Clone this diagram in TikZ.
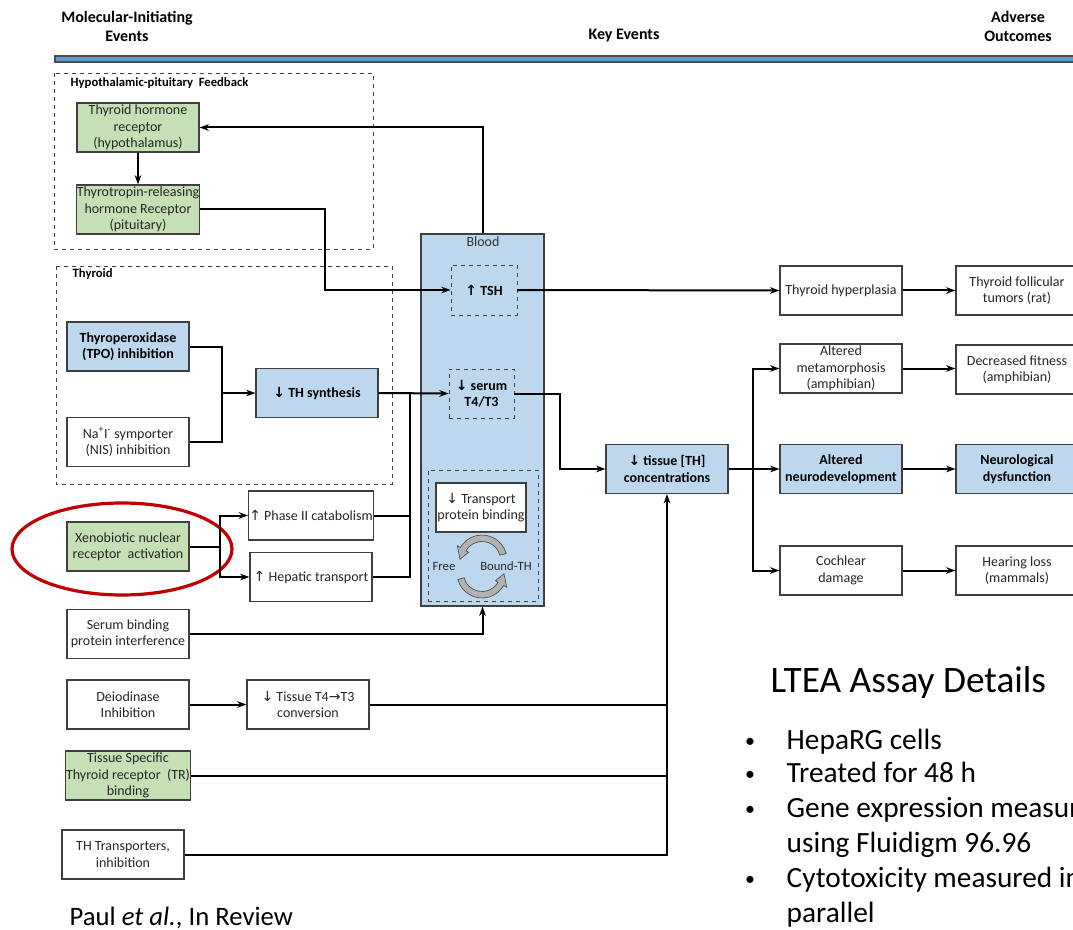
\documentclass[tikz,border=0pt]{standalone}
\usepackage{fontspec}
\setmainfont{Carlito}
\newfontfamily\arrowfont[Scale=1.0]{DejaVu Sans}
\usepackage{tikz}
\usetikzlibrary{positioning,arrows.meta,calc}

\definecolor{leafgreen}{HTML}{C5E0B4}
\definecolor{paleblue}{HTML}{BDD7EE}
\definecolor{barblue}{HTML}{5B9BD5}
\definecolor{ovalred}{HTML}{C00000}
\definecolor{edgegray}{HTML}{404040}

\newcommand{\bxf}{\fontsize{10.5}{12.3}\selectfont}
\newcommand{\uparr}{{\arrowfont ↑}}
\newcommand{\dnarr}{{\arrowfont ↓}}
\newcommand{\rtarr}{{\arrowfont →}}

\begin{document}
\begin{tikzpicture}[x=0.75pt,y=-0.75pt,>={Stealth[length=7pt,width=5pt]},
  box/.style={draw=edgegray,line width=0.9pt,minimum width=91.5pt,minimum height=36.75pt,inner sep=0.5pt,align=center,font=\bxf,text=black!85},
  greenbox/.style={box,fill=leafgreen},
  bluebox/.style={box,fill=paleblue,font=\bxf\bfseries,text=black},
  plainbox/.style={box,fill=white},
  dashbox/.style={draw=edgegray,dashed,line width=0.6pt},
  link/.style={line width=1.5pt},
  flow/.style={link,->},
  grouptitle/.style={anchor=west,font=\fontsize{9.5}{11}\selectfont\bfseries},
  roundarrow/.style={fill=gray!60,draw=black!70,line width=0.5pt}]
\useasboundingbox (0,0) rectangle (1073,930);
\clip (0,0) rectangle (1073,930);
% ---------------- header ----------------
\node[align=center,font=\fontsize{12}{14.25}\selectfont\bfseries] (mie) at (127,26.5) {Molecular-Initiating\\Events};
\node[font=\fontsize{12}{14.25}\selectfont\bfseries] (ke) at (624,36) {Key Events};
\node[align=center,font=\fontsize{12}{14.25}\selectfont\bfseries] (ao) at (1018,26.5) {Adverse\\Outcomes};
\draw[fill=barblue,draw=black!70,line width=0.8pt] (55,56) rectangle (1090,62);

% ---------------- hypothalamic-pituitary feedback ----------------
\draw[dashbox] (54,73) rectangle (373,249);
\node[grouptitle] (hpftitle) at (66,83) {Hypothalamic-pituitary\ \ Feedback};
\node[greenbox] (hyporec) at (138,127.5) {Thyroid hormone\\receptor\\(hypothalamus)};
\node[greenbox] (trhrec) at (138,209.5) {Thyrotropin-releasing\\hormone Receptor\\(pituitary)};

% ---------------- thyroid ----------------
\draw[dashbox] (56,266) rectangle (392,484);
\node[grouptitle] (thytitle) at (68,274) {Thyroid};
\node[bluebox] (tpo) at (128,346.5) {Thyroperoxidase\\(TPO) inhibition};
\node[plainbox] (nis) at (128,442) {Na\textsuperscript{+}I\textsuperscript{-} symporter\\(NIS) inhibition};
\node[bluebox] (thsyn) at (317,393) {\dnarr\ TH synthesis};

% ---------------- blood ----------------
\node[draw=edgegray,line width=0.9pt,fill=paleblue,minimum width=92.25pt,minimum height=279pt] (blood) at (482.5,420) {};
\node[font=\bxf,text=black!80] (bloodlbl) at (483,242) {Blood};
\node[dashbox,minimum width=49.5pt,minimum height=37.5pt,font=\bxf\bfseries] (tsh) at (484,290) {\uparr\ TSH};
\node[dashbox,minimum width=48.75pt,minimum height=36.75pt,align=center,font=\bxf\bfseries] (serum) at (481.5,393.5) {\dnarr\ serum\\T4/T3};
\node[dashbox,minimum width=82.5pt,minimum height=98.25pt] (bindzone) at (483,535.5) {};
\node[plainbox,minimum width=67.5pt] (tpb) at (481,507.5) {\dnarr\ Transport\\protein binding};
\node[font=\fontsize{9.5}{11}\selectfont,text=black!85] (free) at (444,566) {Free};
\node[font=\fontsize{9.5}{11}\selectfont,text=black!85] (bound) at (506,566) {Bound-TH};
\coordinate (tc) at (482,560);
\coordinate (bc) at (482,573);
\draw[roundarrow] ($(tc)+(-15:25)$) arc[start angle=-15,end angle=-150,radius=25]
  -- ($(tc)+(-150:28.5)$) -- ($(tc)+(-178:22)$) -- ($(tc)+(-150:15.5)$) -- ($(tc)+(-150:18.5)$)
  arc[start angle=-150,end angle=-15,radius=18.5] -- cycle;
\draw[roundarrow] ($(bc)+(165:25)$) arc[start angle=165,end angle=30,radius=25]
  -- ($(bc)+(30:28.5)$) -- ($(bc)+(2:22)$) -- ($(bc)+(30:15.5)$) -- ($(bc)+(30:18.5)$)
  arc[start angle=30,end angle=165,radius=18.5] -- cycle;

% ---------------- lower left initiating events ----------------
\node[greenbox] (xeno) at (128,546.5) {Xenobiotic nuclear\\receptor\ \ activation};
\node[plainbox] (phase) at (311,515.5) {\uparr\ Phase II catabolism};
\node[plainbox] (hepatic) at (311,577) {\uparr\ Hepatic transport};
\node[plainbox] (sbp) at (128,634) {Serum binding\\protein interference};
\node[plainbox] (deio) at (128,704.5) {Deiodinase\\Inhibition};
\node[plainbox] (conv) at (308,704.5) {\dnarr\ Tissue T4\rtarr T3\\conversion};
\node[greenbox] (tstr) at (128,775.5) {Tissue Specific\\Thyroid receptor\ \ (TR)\\binding};
\node[plainbox] (thtr) at (123,854.5) {TH Transporters,\\inhibition};
\draw[ovalred,line width=2.4pt] (122,549) ellipse [x radius=110,y radius=46];

% ---------------- key events and outcomes ----------------
\node[bluebox] (tissue) at (667,469) {\dnarr\ tissue [TH]\\concentrations};
\node[plainbox] (hyper) at (841,290.5) {Thyroid hyperplasia};
\node[plainbox] (meta) at (841,368.5) {Altered\\metamorphosis\\(amphibian)};
\node[bluebox] (neuro) at (841,469) {Altered\\neurodevelopment};
\node[plainbox] (cochlear) at (841,570.5) {Cochlear\\damage};
\node[plainbox] (tumor) at (1017,290.5) {Thyroid follicular\\tumors (rat)};
\node[plainbox] (fitness) at (1017,369.5) {Decreased fitness\\(amphibian)};
\node[bluebox] (neurodys) at (1017,469) {Neurological\\dysfunction};
\node[plainbox] (hearing) at (1017,570.5) {Hearing loss\\(mammals)};

% ---------------- connectors ----------------
\draw[flow] (blood.north) -- (blood.north |- hyporec.east) -- (hyporec.east);
\draw[flow] (hyporec) -- (trhrec);
\draw[flow] (trhrec.east) -- ++(125,0) |- (tsh.west);
\coordinate (jtpo) at (222,393);
\draw[link] (tpo.east) -| (jtpo);
\draw[link] (nis.east) -| (jtpo);
\draw[flow] (jtpo) -- (thsyn.west);
\draw[flow] (thsyn.east) -- (serum.west);
\coordinate (jliv) at (410,393);
\draw[link] (phase.east) -| (jliv);
\draw[link] (hepatic.east) -| (jliv);
\coordinate (jxen) at (220,546.5);
\draw[link] (xeno.east) -- (jxen);
\draw[flow] (jxen) |- (phase.west);
\draw[flow] (jxen) |- (hepatic.west);
\draw[flow] (sbp.east) -| (blood.south);
\draw[flow] (tsh.east) -- (hyper.west);
\draw[flow] (serum.east) -- ++(46,0) |- (tissue.west);
\coordinate (jout) at (753,469);
\draw[link] (tissue.east) -- (jout);
\foreach \ev in {meta,neuro,cochlear}
  \draw[flow] (jout) |- (\ev.west);
\foreach \ev/\ad in {hyper/tumor,meta/fitness,neuro/neurodys,cochlear/hearing}
  \draw[flow] (\ev.east) -- (\ev.east -| \ad.west);
\draw[flow] (deio) -- (conv);
\draw[link] (conv.east) -- (conv.east -| tissue.south);
\draw[link] (tstr.east) -- (tstr.east -| tissue.south);
\draw[flow] (thtr.east) -| (tissue.south);

% ---------------- assay details ----------------
\node[anchor=base west,font=\fontsize{28}{32}\selectfont] (ltea) at (766,692) {LTEA Assay Details};
\foreach \i/\yy/\txt/\dot in {1/740/HepaRG cells/1,2/773/Treated for 48 h/1,3/808/Gene expression measured/1,
    4/843/using Fluidigm 96.96/0,5/878/Cytotoxicity measured in/1,6/913/parallel/0}{
  \ifnum\dot=1 \node[anchor=base,font=\fontsize{15}{18}\selectfont] (dot\i) at (750,\yy+7) {\textbullet};\fi
  \node[anchor=base west,font=\fontsize{22}{26}\selectfont] (item\i) at (782,\yy+9) {\txt};
}
\node[anchor=base west,font=\fontsize{20}{24}\selectfont] (cite) at (65,925) {Paul \textit{et al.}, In Review};
\end{tikzpicture}
\end{document}
